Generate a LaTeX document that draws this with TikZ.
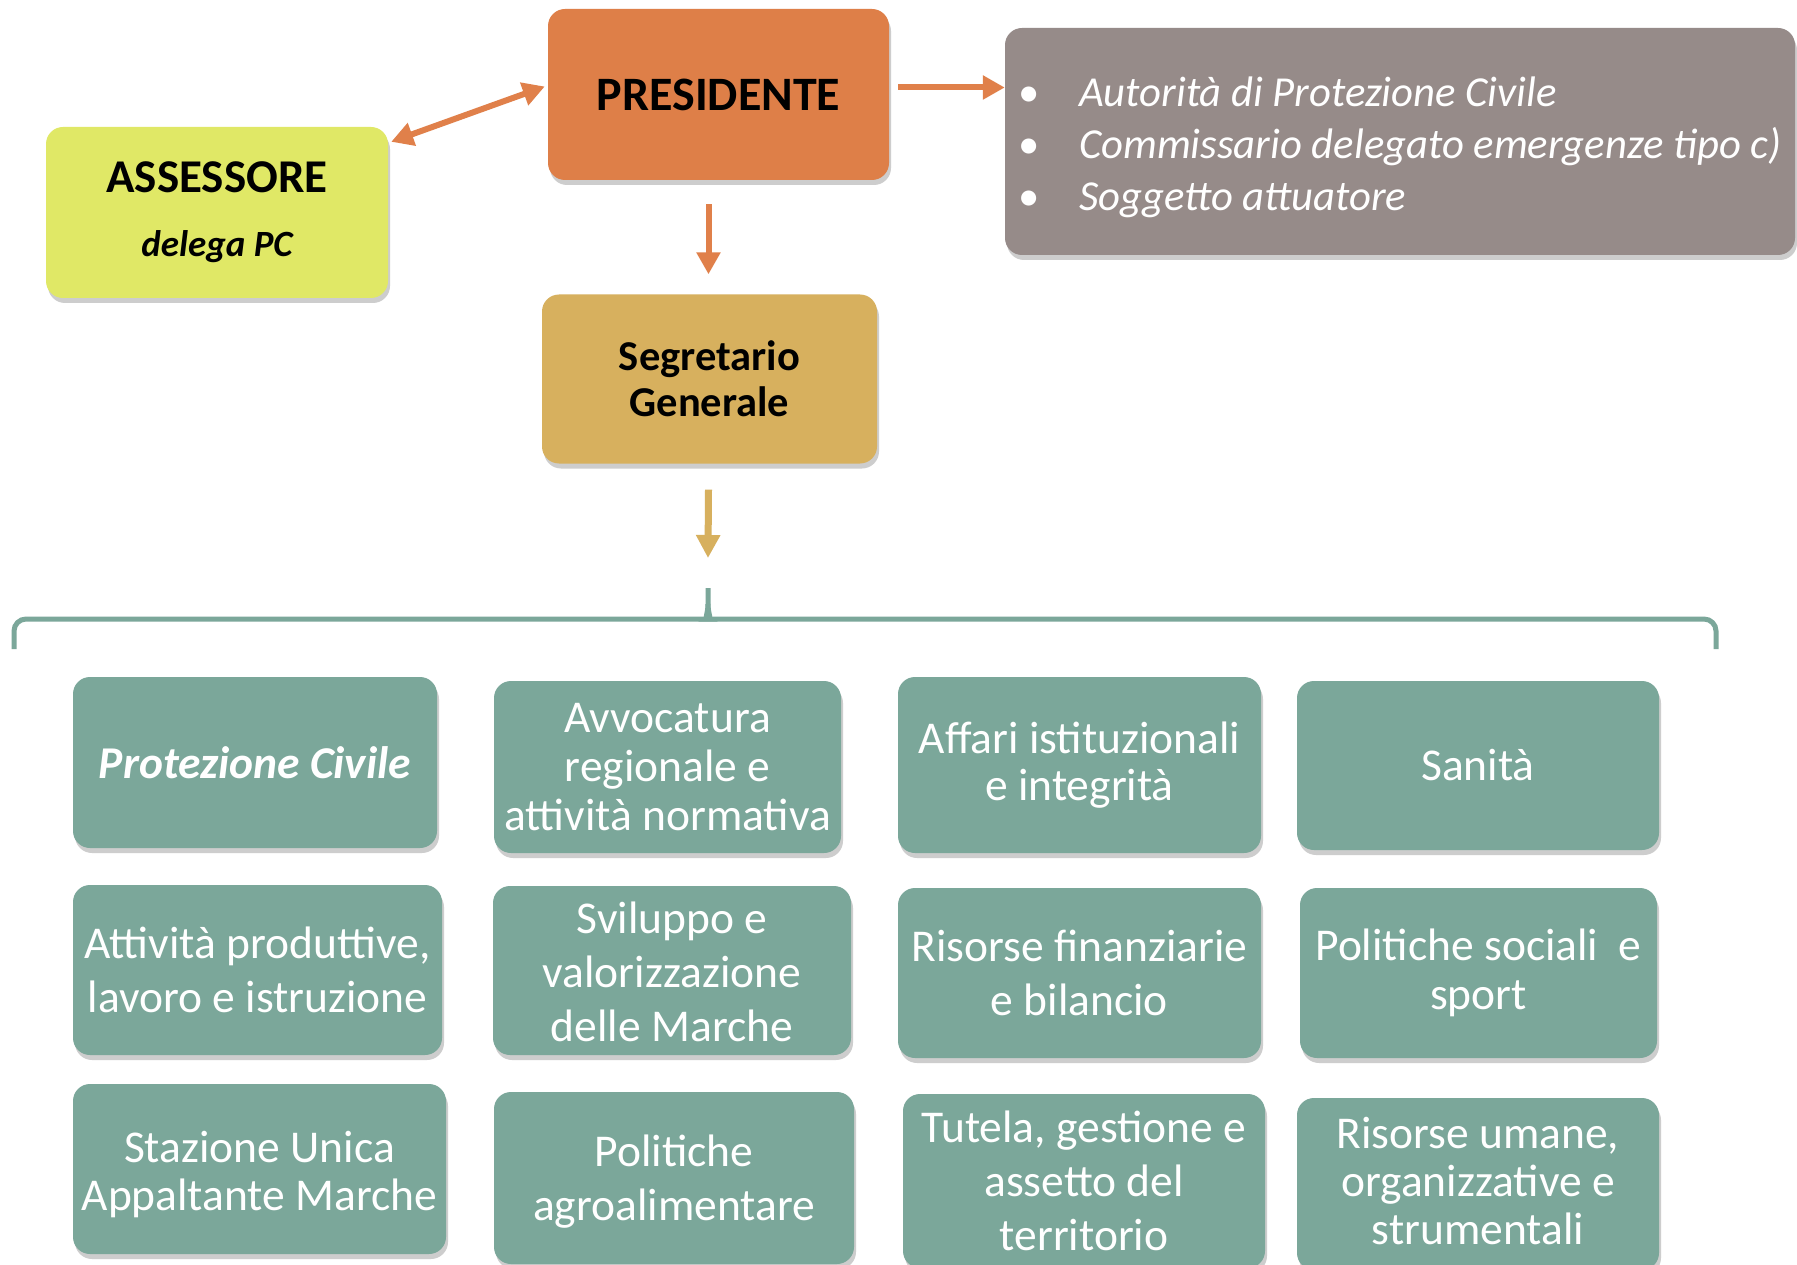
\documentclass[tikz,border=0pt]{standalone}
\usepackage{fontspec}
\setmainfont{Carlito}
\usetikzlibrary{arrows.meta,calc,shadows}
\definecolor{orng}{RGB}{222,127,72}
\definecolor{lime}{RGB}{224,232,102}
\definecolor{greybox}{RGB}{150,139,137}
\definecolor{gold}{RGB}{215,176,94}
\definecolor{tealbox}{RGB}{123,167,154}
\definecolor{arrorng}{RGB}{224,128,74}
\newcommand{\fs}[2]{\fontsize{#1}{#2}\selectfont}
\newcommand{\lowered}[2]{\raisebox{#1}[\height][\depth]{\begin{tabular}{@{}c@{}}#2\end{tabular}}}
\tikzset{
  box/.style={rounded corners=17pt, inner sep=0pt, align=center,
    drop shadow={shadow xshift=2pt, shadow yshift=-5pt, opacity=0.28, fill=black!70}},
  tbox/.style={box, fill=tealbox, text=white},
  arr/.style={line width=6pt, draw=arrorng, -{Triangle[length=22pt,width=23pt]}},
  darr/.style={line width=6pt, draw=arrorng, {Triangle[length=22pt,width=23pt]}-{Triangle[length=22pt,width=23pt]}},
  garr/.style={line width=7pt, draw=gold, -{Triangle[length=23pt,width=23pt]}},
  brace/.style={line width=5pt, draw=tealbox}
}
\begin{document}
\begin{tikzpicture}[x=1pt,y=-1pt]
\useasboundingbox (0,0) rectangle (1797,1265);
\clip (0,0) rectangle (1797,1265);
\fill[white] (0,0) rectangle (1797,1265);

% top boxes
\node[box, fill=orng, minimum width=341pt, minimum height=171pt,
  font=\fs{48}{56}\bfseries] (pres) at (718.5,94.5) {PRESIDENTE};
\node[box, fill=lime, minimum width=342pt, minimum height=171pt,
  font=\fs{37}{64}\bfseries] (ass) at (217,212.5)
  {{\fs{47}{64}ASSESSORE}\\ {\itshape delega PC}};
\node[box, fill=greybox, minimum width=790pt, minimum height=227pt] (grey) at (1400,141.5) {};
\node[anchor=west, align=left, text=white, inner sep=0pt,
  font=\fs{42.7}{52}\itshape] (greytxt) at (1018,147)
  {\makebox[61pt][l]{\upshape\textbullet}Autorità di Protezione Civile\\
   \makebox[61pt][l]{\upshape\textbullet}Commissario delegato emergenze tipo c)\\
   \makebox[61pt][l]{\upshape\textbullet}Soggetto attuatore};
\node[box, fill=gold, minimum width=335pt, minimum height=169pt,
  font=\fs{42.5}{46}\bfseries] (seg) at (709.5,379) {Segretario\\Generale};

% connectors
\draw[darr] ($(ass.north east)+(3,15)$) -- ($(pres.west)+(-3,-8)$);
\draw[arr] ($(pres.east)+(9,-7)$) coordinate (ps) -- (grey.west |- ps);
\draw[arr] ($(seg.north |- pres.south)+(-1,24)$) -- ($(seg.north)+(-1,-20)$);
\coordinate (bt) at (708,588);
\draw[garr] ($(seg.south)+(-1,26)$) -- ($(bt)+(0,-30)$);

% brace
\draw[brace] (14,649) [rounded corners=12pt] |- (696,619) [sharp corners]
  .. controls (704,619) and (708,614) .. (708,604) -- (bt);
\draw[brace] (1716,649) [rounded corners=12pt] |- (720,619) [sharp corners]
  .. controls (712,619) and (708,614) .. (708,604);

% departments
\node[tbox, minimum width=364pt, minimum height=171pt, font=\fs{45.5}{54}\bfseries\itshape] (pc) at (255,762.5) {Protezione Civile};
\node[tbox, minimum width=347pt, minimum height=172pt, font=\fs{45.5}{49}] (avv) at (667.5,767) {Avvocatura\\regionale e\\attività normativa};
\node[tbox, minimum width=363pt, minimum height=176pt, font=\fs{45.5}{47}] (aff) at (1079.5,765) {Affari istituzionali\\e integrità};
\node[tbox, minimum width=362pt, minimum height=169pt, font=\fs{45.5}{54}] (san) at (1478,765.5) {Sanità};

\node[tbox, minimum width=369pt, minimum height=170pt, font=\fs{45.5}{54}] (att) at (257.5,970) {Attività produttive,\\lavoro e istruzione};
\node[tbox, minimum width=358pt, minimum height=169pt, font=\fs{45.5}{54}] (svi) at (672,970.5) {\lowered{-6pt}{Sviluppo e\\valorizzazione\\delle Marche}};
\node[tbox, minimum width=363pt, minimum height=170pt, font=\fs{45.5}{54}] (rfin) at (1079.5,973) {Risorse finanziarie\\e bilancio};
\node[tbox, minimum width=357pt, minimum height=170pt, font=\fs{45.5}{49}] (pso) at (1478.5,973) {Politiche sociali\ \ e\\sport};

\node[tbox, minimum width=373pt, minimum height=170pt, font=\fs{45.5}{48}] (sta) at (259.5,1169) {\lowered{-8pt}{Stazione Unica\\Appaltante Marche}};
\node[tbox, minimum width=360pt, minimum height=172pt, font=\fs{45.5}{54}] (agro) at (674,1178) {\lowered{-5pt}{Politiche\\agroalimentare}};
\node[tbox, minimum width=362pt, minimum height=174pt, font=\fs{45.5}{54}] (tut) at (1084,1181) {Tutela, gestione e\\assetto del\\territorio};
\node[tbox, minimum width=362pt, minimum height=172pt, font=\fs{45.5}{48}] (rum) at (1478,1184) {\lowered{-3pt}{Risorse umane,\\organizzative e\\strumentali}};
\end{tikzpicture}
\end{document}
